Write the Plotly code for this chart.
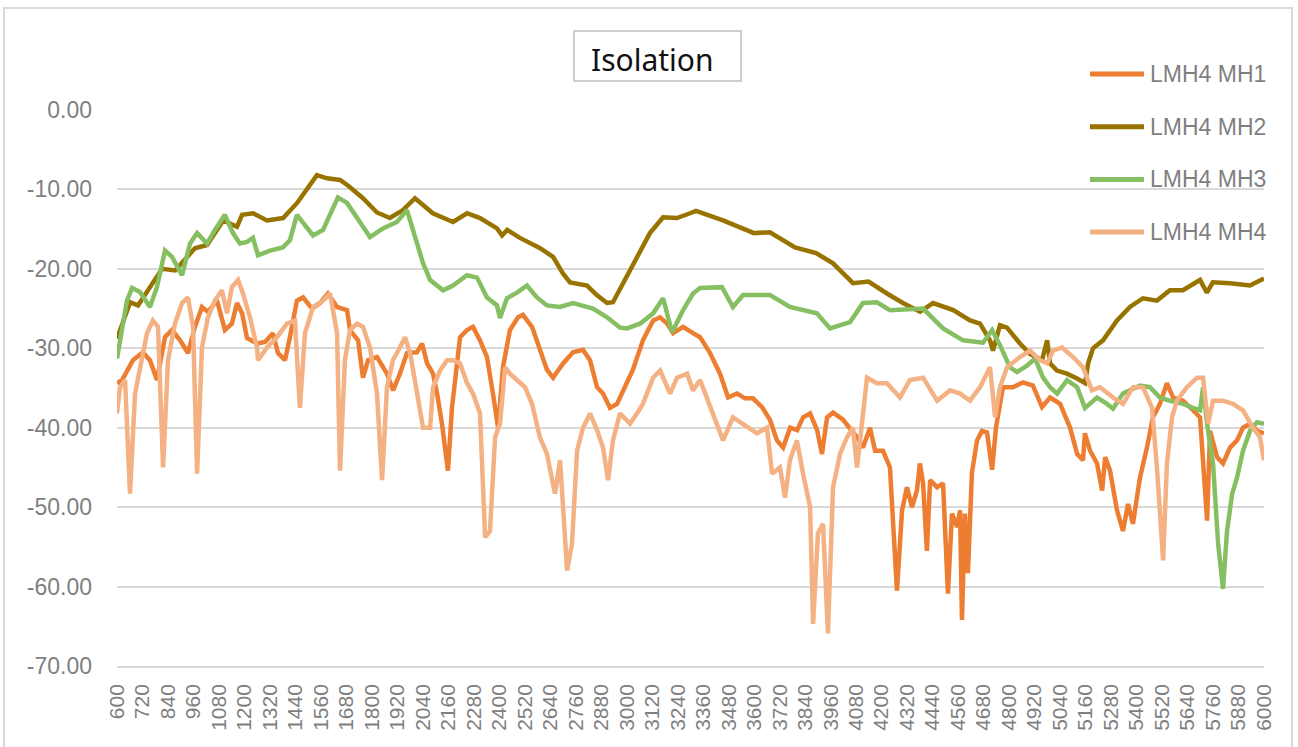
import plotly.graph_objects as go

# series names and colours
names = ['LMH4 MH1', 'LMH4 MH2', 'LMH4 MH3', 'LMH4 MH4']
colors = ['#ED7D31', '#997300', '#86BF61', '#F4B183']

# (frequency, isolation dB)
mh1 = [(600, -34.4), (624, -34.0), (675, -31.5), (722, -30.5), (755, -31.5), (788, -34.0), (826, -28.6),
       (859, -27.7), (897, -29.0), (934, -30.6), (967, -27.3), (1000, -24.8), (1028, -25.4), (1071, -24.0),
       (1108, -27.7), (1141, -26.9), (1165, -24.3), (1189, -25.6), (1212, -28.7), (1259, -29.4), (1297, -29.2),
       (1334, -28.1), (1358, -30.6), (1391, -31.5), (1414, -28.6), (1447, -24.0), (1476, -23.6), (1518, -25.0),
       (1556, -24.3), (1593, -23.1), (1636, -24.8), (1683, -25.2), (1697, -27.7), (1735, -29.0), (1758, -33.7),
       (1782, -31.5), (1824, -31.1), (1871, -33.2), (1900, -35.3), (1932, -33.2), (1965, -30.6), (2012, -30.5),
       (2036, -29.4), (2060, -31.9), (2088, -33.2), (2107, -35.7), (2130, -39.5), (2158, -45.4), (2177, -37.5),
       (2201, -32.4), (2215, -28.6), (2248, -27.7), (2276, -27.3), (2309, -29.0), (2342, -31.1), (2370, -35.7),
       (2394, -40.0), (2417, -32.4), (2450, -27.7), (2488, -26.1), (2511, -25.8), (2554, -27.3), (2591, -30.2),
       (2624, -32.7), (2653, -33.7), (2700, -31.9), (2747, -30.5), (2794, -30.2), (2827, -31.5), (2860, -34.9),
       (2888, -35.7), (2921, -37.5), (2954, -37.0), (2982, -35.3), (3029, -32.7), (3076, -29.0), (3124, -26.5),
       (3157, -26.1), (3190, -26.9), (3218, -28.1), (3265, -27.3), (3312, -28.1), (3345, -28.6), (3392, -30.6),
       (3439, -33.2), (3477, -36.2), (3519, -35.7), (3557, -36.3), (3594, -36.3), (3637, -37.4), (3674, -39.0),
       (3707, -41.6), (3736, -42.5), (3769, -40.0), (3802, -40.3), (3830, -38.7), (3863, -38.2), (3896, -40.3),
       (3919, -43.3), (3943, -38.7), (3971, -38.1), (4018, -39.0), (4051, -40.0), (4084, -41.2), (4112, -42.5),
       (4145, -40.0), (4169, -42.9), (4206, -42.9), (4239, -45.0), (4272, -60.5), (4296, -50.4), (4319, -47.5),
       (4343, -50.0), (4366, -47.9), (4380, -44.5), (4395, -47.0), (4413, -55.5), (4428, -46.6), (4461, -47.5),
       (4489, -47.0), (4512, -60.9), (4531, -50.8), (4555, -52.5), (4569, -50.4), (4578, -64.2), (4592, -50.8),
       (4606, -58.3), (4625, -45.7), (4649, -41.6), (4672, -40.4), (4696, -40.6), (4720, -45.3), (4738, -40.0),
       (4771, -34.9), (4818, -34.9), (4865, -34.3), (4912, -34.7), (4955, -37.4), (4993, -36.2), (5040, -37.0),
       (5087, -40.0), (5120, -43.3), (5148, -44.1), (5157, -40.7), (5181, -42.9), (5214, -44.5), (5238, -47.9),
       (5252, -43.7), (5275, -45.4), (5308, -50.4), (5336, -53.0), (5360, -49.6), (5383, -52.1), (5416, -46.3),
       (5449, -42.5), (5477, -38.7), (5510, -37.0), (5543, -34.4), (5572, -36.2), (5619, -36.6), (5666, -37.8),
       (5699, -38.7), (5732, -51.7), (5746, -40.4), (5779, -43.7), (5807, -44.5), (5840, -42.5), (5873, -41.6),
       (5901, -40.0), (5934, -39.5), (5967, -40.4), (6000, -40.7)]

mh2 = [(600, -28.8), (662, -24.2), (699, -24.6), (756, -22.3), (812, -20.0), (874, -20.2), (967, -17.4),
       (1024, -17.0), (1100, -13.9), (1165, -14.7), (1189, -13.2), (1241, -13.0), (1306, -13.9), (1382, -13.6),
       (1448, -11.7), (1541, -8.2), (1589, -8.6), (1650, -8.8), (1687, -9.5), (1758, -11.1), (1824, -12.9),
       (1885, -13.6), (1946, -12.6), (2003, -11.1), (2087, -13.0), (2182, -14.1), (2248, -13.0), (2309, -13.6),
       (2389, -14.9), (2413, -15.8), (2437, -15.1), (2497, -16.1), (2592, -17.4), (2653, -18.5), (2700, -20.6),
       (2733, -21.7), (2813, -22.1), (2859, -23.3), (2907, -24.3), (2935, -24.2), (2983, -21.8), (3048, -18.5),
       (3109, -15.5), (3171, -13.5), (3236, -13.6), (3298, -13.0), (3326, -12.7), (3453, -13.9), (3599, -15.5),
       (3674, -15.4), (3792, -17.3), (3891, -18.0), (3971, -19.3), (4065, -21.8), (4138, -21.6), (4225, -23.1),
       (4300, -24.3), (4381, -25.4), (4442, -24.3), (4537, -25.2), (4616, -26.5), (4663, -26.9), (4710, -29.0),
       (4724, -30.3), (4757, -27.1), (4790, -27.4), (4851, -29.4), (4898, -30.7), (4955, -31.5), (4979, -29.0),
       (4993, -31.9), (5025, -32.8), (5072, -33.2), (5120, -33.8), (5158, -34.4), (5172, -31.9), (5195, -30.0),
       (5242, -29.0), (5308, -26.5), (5369, -24.8), (5430, -23.7), (5496, -24.0), (5557, -22.7), (5618, -22.7),
       (5699, -21.4), (5731, -23.0), (5759, -21.7), (5840, -21.8), (5934, -22.1), (6000, -21.2)]

mh3 = [(600, -31.3), (614, -29.0), (647, -24.0), (671, -22.4), (708, -22.9), (755, -24.8), (788, -22.3),
       (826, -17.7), (859, -18.5), (906, -20.8), (944, -16.8), (977, -15.5), (1024, -16.8), (1061, -15.1),
       (1108, -13.2), (1146, -15.5), (1179, -16.8), (1212, -16.6), (1240, -16.1), (1264, -18.3), (1320, -17.7),
       (1381, -17.3), (1414, -16.4), (1447, -13.2), (1523, -15.8), (1570, -15.1), (1640, -11.0), (1683, -11.7),
       (1730, -13.5), (1791, -16.0), (1852, -14.9), (1918, -14.1), (1965, -12.6), (2003, -16.0), (2041, -19.3),
       (2074, -21.4), (2135, -22.7), (2182, -22.1), (2248, -20.8), (2295, -21.1), (2342, -23.6), (2389, -24.6),
       (2403, -26.2), (2436, -23.7), (2483, -23.0), (2530, -22.1), (2577, -23.6), (2624, -24.6), (2686, -24.8),
       (2747, -24.3), (2841, -25.0), (2907, -26.1), (2968, -27.4), (3001, -27.5), (3062, -26.9), (3124, -25.6),
       (3171, -23.7), (3213, -28.0), (3265, -25.2), (3312, -23.1), (3345, -22.4), (3448, -22.3), (3500, -24.8),
       (3547, -23.3), (3674, -23.3), (3768, -24.8), (3895, -25.6), (3957, -27.5), (4051, -26.7), (4112, -24.3),
       (4178, -24.2), (4239, -25.2), (4395, -25.0), (4489, -27.5), (4583, -29.0), (4677, -29.3), (4720, -27.7),
       (4757, -29.6), (4804, -32.4), (4837, -33.0), (4884, -32.2), (4922, -31.3), (4960, -33.7), (4993, -34.9),
       (5026, -35.7), (5073, -34.0), (5120, -34.9), (5157, -37.5), (5214, -36.2), (5261, -37.0), (5289, -37.6),
       (5336, -35.7), (5416, -34.7), (5463, -34.9), (5510, -36.2), (5557, -36.6), (5619, -37.0), (5666, -37.5),
       (5699, -37.8), (5713, -34.9), (5732, -39.5), (5760, -44.5), (5784, -54.6), (5807, -60.3), (5826, -53.0),
       (5850, -48.3), (5873, -46.3), (5901, -42.9), (5934, -40.4), (5967, -39.3), (6000, -39.5)]

mh4 = [(600, -38.2), (614, -34.9), (638, -34.0), (661, -48.3), (685, -35.7), (708, -32.4), (741, -28.1),
       (769, -26.5), (793, -27.3), (817, -45.0), (840, -31.5), (873, -26.9), (906, -24.3), (934, -23.6),
       (958, -27.3), (977, -45.8), (1000, -29.9), (1028, -26.1), (1061, -24.0), (1094, -22.7), (1118, -25.6),
       (1141, -22.3), (1170, -21.4), (1193, -23.1), (1226, -26.1), (1259, -29.9), (1264, -31.5), (1306, -29.9),
       (1353, -28.6), (1400, -26.9), (1438, -26.5), (1461, -37.5), (1485, -28.1), (1523, -24.8), (1570, -24.0),
       (1603, -23.1), (1636, -28.1), (1650, -45.4), (1673, -31.5), (1697, -27.7), (1730, -26.9), (1758, -27.3),
       (1791, -29.9), (1824, -35.7), (1848, -46.6), (1871, -34.9), (1899, -31.5), (1932, -29.9), (1956, -28.6),
       (1980, -30.6), (2012, -35.7), (2041, -40.0), (2074, -40.0), (2088, -34.9), (2121, -32.8), (2154, -31.5),
       (2182, -31.5), (2215, -31.9), (2248, -34.4), (2276, -35.7), (2309, -38.2), (2333, -53.8), (2356, -53.0),
       (2380, -41.2), (2403, -39.5), (2427, -32.4), (2450, -33.2), (2483, -34.0), (2521, -34.9), (2554, -37.0),
       (2591, -41.2), (2624, -43.3), (2662, -48.3), (2686, -44.1), (2719, -58.0), (2742, -54.6), (2766, -42.9),
       (2794, -40.0), (2827, -38.2), (2860, -40.3), (2888, -42.5), (2912, -46.6), (2935, -41.6), (2968, -38.2),
       (3015, -39.5), (3048, -38.2), (3076, -37.0), (3124, -33.7), (3157, -32.8), (3204, -35.7), (3237, -33.7),
       (3284, -33.2), (3312, -35.3), (3345, -34.0), (3392, -37.4), (3453, -41.6), (3500, -38.7), (3547, -39.5),
       (3613, -40.7), (3660, -40.0), (3684, -45.8), (3721, -45.0), (3745, -48.8), (3768, -44.1), (3801, -41.6),
       (3830, -45.8), (3863, -50.0), (3877, -64.7), (3900, -53.3), (3924, -52.1), (3947, -65.9), (3971, -47.5),
       (4004, -43.3), (4037, -41.2), (4065, -40.0), (4084, -45.0), (4107, -39.5), (4131, -33.7), (4178, -34.4),
       (4225, -34.4), (4286, -36.2), (4333, -34.0), (4395, -33.7), (4461, -36.6), (4522, -35.3), (4569, -35.7),
       (4616, -36.6), (4663, -34.9), (4710, -32.4), (4734, -38.7), (4757, -34.9), (4790, -32.4), (4851, -31.1),
       (4898, -30.3), (4946, -31.5), (4979, -31.9), (5007, -30.3), (5049, -29.9), (5101, -31.1), (5148, -32.4),
       (5190, -35.3), (5228, -34.9), (5289, -36.2), (5336, -37.0), (5383, -34.9), (5430, -34.9), (5473, -37.5),
       (5497, -45.4), (5525, -56.7), (5543, -44.5), (5567, -38.7), (5590, -36.6), (5637, -34.9), (5685, -33.7),
       (5713, -33.7), (5737, -39.5), (5760, -36.6), (5807, -36.6), (5854, -37.0), (5901, -37.8), (5948, -40.0),
       (5981, -41.2), (6000, -44.1)]

series = [mh1, mh2, mh3, mh4]

x_ticks = list(range(600, 6001, 120))
x_labels = [str(v) for v in x_ticks]
y_ticks = [0, -10, -20, -30, -40, -50, -60, -70]
y_labels = ['0.00', '-10.00', '-20.00', '-30.00', '-40.00', '-50.00', '-60.00', '-70.00']

W, H = 1298, 747
L, R, T, B = 117, 34, 110, 81
pw, ph = W - L - R, H - T - B


def px(x):
    return (x - L) / pw


def py(y):
    return (H - B - y) / ph


fig = go.Figure()
for name, color, data in zip(names, colors, series):
    fig.add_trace(go.Scatter(
        x=[p[0] for p in data], y=[p[1] for p in data], name=name, mode='lines',
        line=dict(color=color, width=4.5), showlegend=False,
    ))

shapes = [
    # outer chart border
    dict(type='rect', xref='paper', yref='paper', x0=px(4), x1=px(1292), y0=py(770), y1=py(8),
         line=dict(color='#d9d9d9', width=2), layer='below'),
    # title box
    dict(type='rect', xref='paper', yref='paper', x0=px(574), x1=px(741), y0=py(81), y1=py(31),
         line=dict(color='#bfbfbf', width=1.5)),
]
annotations = [dict(text='Isolation', xref='paper', yref='paper', x=px(652), y=py(60),
                    xanchor='center', yanchor='middle', showarrow=False,
                    font=dict(family='Noto Sans', size=30, color='#111111'))]

# hand-drawn legend at top right
for i, (name, color) in enumerate(zip(names, colors)):
    yy = 74 + i * 52.7
    shapes.append(dict(type='line', xref='paper', yref='paper', x0=px(1090), x1=px(1144),
                       y0=py(yy), y1=py(yy), line=dict(color=color, width=5)))
    annotations.append(dict(text=name, xref='paper', yref='paper', x=px(1148), y=py(yy),
                            xanchor='left', yanchor='middle', showarrow=False,
                            font=dict(family='Liberation Sans', size=23, color='#7f7f7f')))

fig.update_layout(
    width=W, height=H, autosize=False,
    margin=dict(l=L, r=R, t=T, b=B),
    paper_bgcolor='white', plot_bgcolor='white',
    shapes=shapes, annotations=annotations,
    xaxis=dict(range=[600, 6000], tickmode='array', tickvals=x_ticks, ticktext=x_labels,
               tickangle=-90, showgrid=False, zeroline=False, showline=True,
               linecolor='#d9d9d9', linewidth=1.5, ticks='', ticklabelstandoff=8,
               tickfont=dict(family='Liberation Sans', size=21, color='#7f7f7f')),
    yaxis=dict(range=[-70, 0], tickmode='array', tickvals=y_ticks, ticktext=y_labels,
               showgrid=True, gridcolor='#d9d9d9', gridwidth=1.5, zeroline=False,
               ticks='', ticklabelstandoff=24,
               tickfont=dict(family='Liberation Sans', size=23, color='#7f7f7f')),
)

fig.write_html('out.html', config={'displayModeBar': False},
               post_script="document.body.style.margin='0px';")
